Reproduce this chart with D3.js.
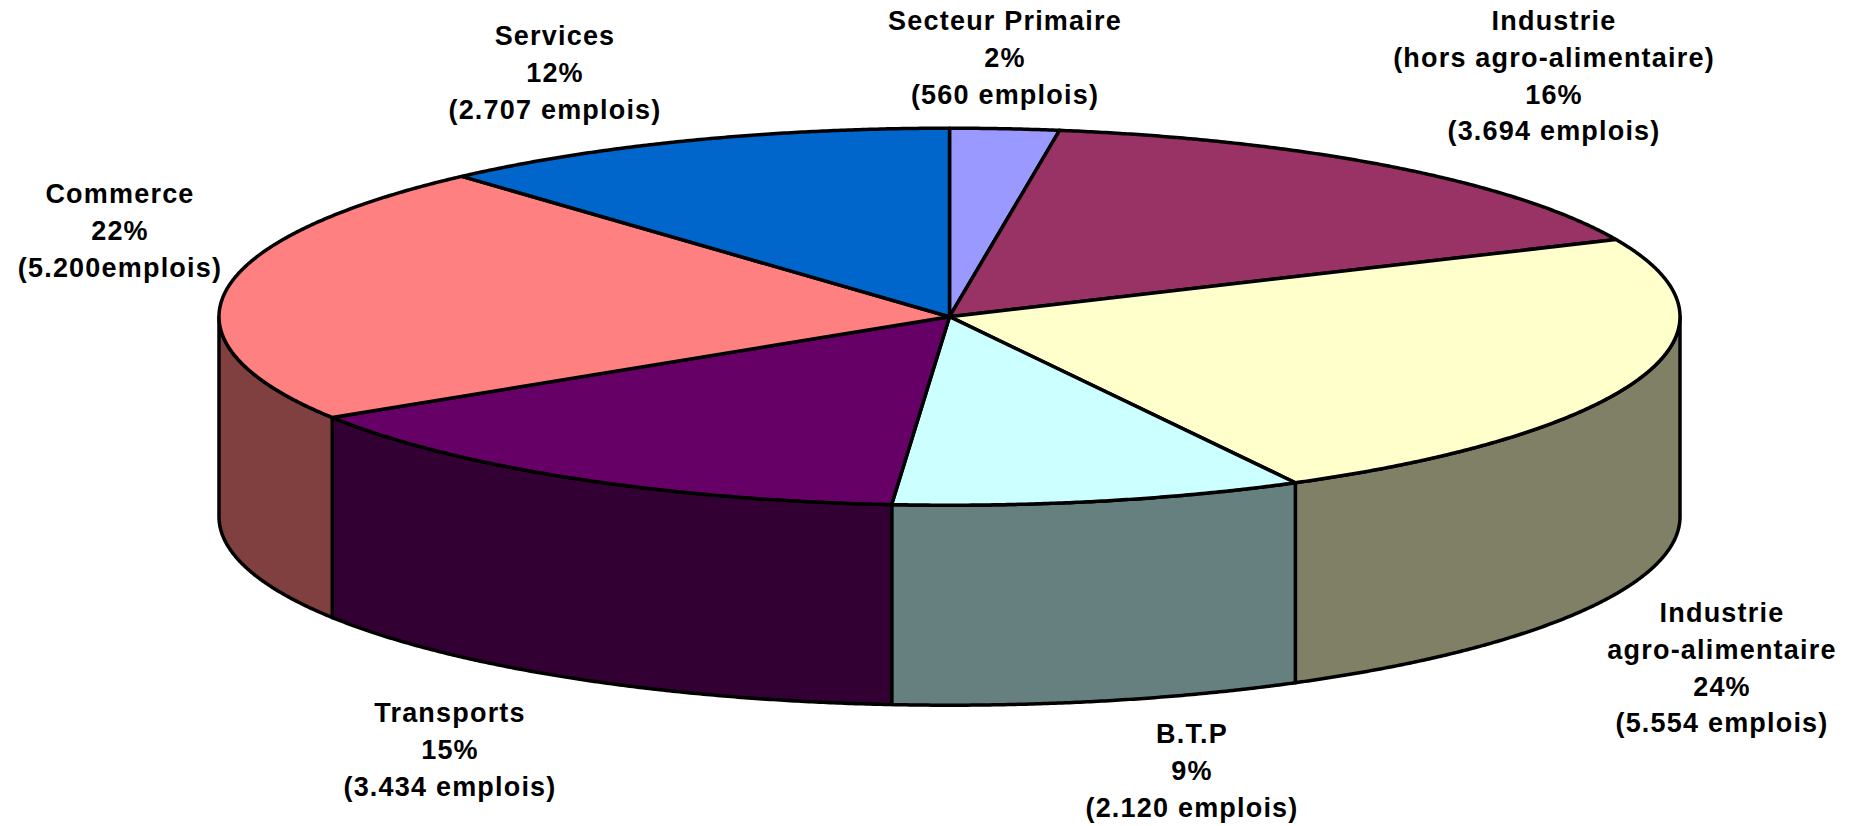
<!DOCTYPE html>
<html>
<head>
<meta charset="utf-8">
<script src="https://cdn.jsdelivr.net/npm/d3@7"></script>
<style>
  body { margin: 0; background: #fff; }
  text { font-family: "Liberation Sans", Arial, sans-serif; font-weight: bold; font-size: 27px; letter-spacing: 1.2px; fill: #000; }
</style>
</head>
<body>
<div id="plot"></div>
<script>
// emplois par secteur, dans l'ordre du graphique (sens horaire depuis midi)
const sectors = ["Secteur Primaire", "Industrie\n(hors agro-alimentaire)", "Industrie\nagro-alimentaire",
                 "B.T.P", "Transports", "Commerce", "Services"];
const jobs = [560, 3694, 5554, 2120, 3434, 5200, 2707];
const colors = ["#9999FF", "#993366", "#FFFFCC", "#CCFFFF", "#660066", "#FF8080", "#0066CC"];
// the original has "(5.200emplois)" with no space
const gapBeforeEmplois = [" ", " ", " ", " ", " ", "", " "];

// label anchors, hand placed in the original chart
const labelX = [1005, 1554, 1722, 1192, 450, 120, 555];
const labelY = [30, 30, 622, 743, 722, 203, 45];

window.addEventListener("load", main);

function main(){
  const width = 1855, height = 826;
  const cx = 949.5, cy = 316.7, rx = 730.5, ry = 188.5, depth = 200;
  const lineH = 36.8;

  const svg = d3.select("#plot")
    .append("svg")
    .attr("width", width)
    .attr("height", height);

  const pie = d3.pie().sort(null).value(d => d.jobs);
  const data = sectors.map((s, i) => ({name: s, jobs: jobs[i], color: colors[i], i: i}));
  const arcs = pie(data);
  const total = d3.sum(jobs);

  // points on the rim between two angles (0 = top, clockwise)
  function rim(a0, a1, dy){
    const n = Math.max(2, Math.ceil(Math.abs(a1 - a0) / 0.005));
    return d3.range(n + 1).map(k => {
      const a = a0 + (a1 - a0) * k / n;
      return [cx + rx * Math.sin(a), cy - ry * Math.cos(a) + dy];
    });
  }
  const line = d3.line().curve(d3.curveLinear);

  function shade(c){
    const r = d3.rgb(c);
    return d3.rgb(r.r * 0.5, r.g * 0.5, r.b * 0.5).formatHex();
  }

  // front wall, only the half that faces us
  const sides = arcs.map(d => {
      const s = Math.max(d.startAngle, Math.PI / 2);
      const e = Math.min(d.endAngle, 3 * Math.PI / 2);
      return {d: d, s: s, e: e};
    })
    .filter(o => o.s < o.e);

  svg.append("g")
    .attr("id", "sides")
    .selectAll("path")
    .data(sides)
    .join("path")
    .attr("d", o => line(rim(o.s, o.e, 0).concat(rim(o.e, o.s, depth))) + "Z")
    .attr("fill", o => shade(o.d.data.color))
    .attr("stroke", "#000")
    .attr("stroke-width", 3.5)
    .attr("stroke-linejoin", "round");

  svg.append("g")
    .attr("id", "tops")
    .selectAll("path")
    .data(arcs)
    .join("path")
    .attr("d", d => line([[cx, cy]].concat(rim(d.startAngle, d.endAngle, 0))) + "Z")
    .attr("fill", d => d.data.color)
    .attr("stroke", "#000")
    .attr("stroke-width", 3.5)
    .attr("stroke-linejoin", "round");

  const fr = d3.formatLocale({decimal: ",", thousands: ".", grouping: [3], currency: ["", ""]});
  const fmt = fr.format(",");

  const labels = svg.append("g")
    .attr("id", "labels")
    .selectAll("text")
    .data(arcs)
    .join("text")
    .attr("text-anchor", "middle")
    .attr("x", d => labelX[d.data.i])
    .attr("y", d => labelY[d.data.i]);

  labels.each(function(d){
    const lines = d.data.name.split("\n")
      .concat([Math.round(d.data.jobs / total * 100) + "%",
               "(" + fmt(d.data.jobs) + gapBeforeEmplois[d.data.i] + "emplois)"]);
    d3.select(this).selectAll("tspan")
      .data(lines)
      .join("tspan")
      .attr("x", labelX[d.data.i])
      .attr("dy", (t, k) => k === 0 ? 0 : lineH)
      .text(t => t);
  });
}
</script>
</body>
</html>
